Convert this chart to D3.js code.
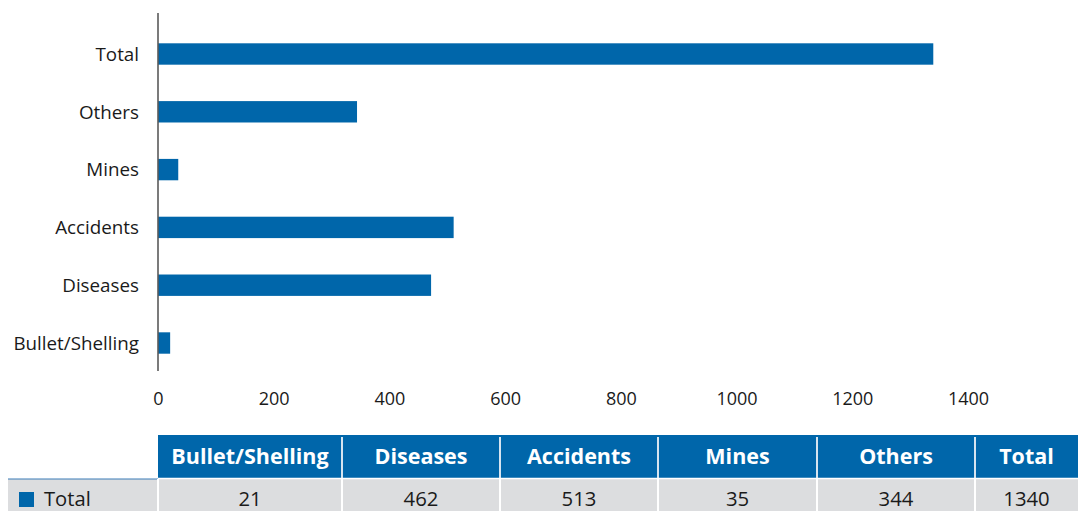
<!DOCTYPE html>
<html>
<head>
<meta charset="utf-8">
<script src="https://cdn.jsdelivr.net/npm/d3@7"></script>
<style>
  html, body { margin: 0; padding: 0; background: #fff; }
  svg { display: block; }
  text { font-family: "Open Sans", "Noto Sans", sans-serif; fill: #1a1a1a; }
</style>
</head>
<body>
<svg id="chart" width="1078" height="511"></svg>
<script>
// ---- data ----
const categories = ["Bullet/Shelling", "Diseases", "Accidents", "Mines", "Others", "Total"];
// values printed in the data table
const tableValues = [21, 462, 513, 35, 344, 1340];
// bar lengths (the Diseases bar is drawn a little longer than its table value)
const barValues = [21, 472, 511, 35, 344, 1340];
const seriesName = "Total";
const xTicks = [0, 200, 400, 600, 800, 1000, 1200, 1400];

// ---- styling / layout ----
const blue = "#0066aa";
const grey = "#dcdddf";
const svg = d3.select("#chart");

const x = d3.scaleLinear().domain([0, 1400]).range([158, 968]);
// top to bottom: Total ... Bullet/Shelling
const y = d3.scaleBand()
  .domain(categories.slice().reverse())
  .range([43.3, 353.7])
  .paddingInner(0.63)
  .paddingOuter(0);

// bars
svg.append("g").selectAll("rect")
  .data(categories.map((c, i) => ({ c, v: barValues[i] })))
  .join("rect")
  .attr("x", x(0))
  .attr("y", d => y(d.c))
  .attr("width", d => x(d.v) - x(0))
  .attr("height", y.bandwidth())
  .attr("fill", blue);

// y axis (labels)
const yAxis = svg.append("g")
  .attr("transform", `translate(${x(0)},0)`)
  .call(d3.axisLeft(y).tickSize(0).tickPadding(19));
yAxis.select(".domain").remove();
yAxis.selectAll("text")
  .attr("font-size", 18.8)
  .attr("font-family", "'Open Sans', sans-serif")
  .attr("fill", "#1a1a1a")
  .attr("dy", "0.36em");

// vertical axis line
svg.append("line")
  .attr("x1", x(0)).attr("x2", x(0))
  .attr("y1", 13).attr("y2", 371)
  .attr("stroke", "#5a5a5a").attr("stroke-width", 1.6);

// x axis (labels only)
const xAxis = svg.append("g")
  .attr("transform", "translate(0,405)")
  .call(d3.axisBottom(x).tickValues(xTicks).tickSize(0).tickPadding(0).tickFormat(d3.format("d")));
xAxis.select(".domain").remove();
xAxis.selectAll("text")
  .attr("font-size", 18)
  .attr("font-family", "'Open Sans', sans-serif")
  .attr("fill", "#1a1a1a")
  .attr("dy", 0)
  .attr("y", 0);

// ---- data table ----
const colEdges = [158, 342, 500, 658, 817, 975, 1078];
const headerTop = 435, headerBottom = 478, rowTop = 479, rowBottom = 511;

// first column data cell
svg.append("rect").attr("x", 8).attr("y", rowTop).attr("width", 150).attr("height", rowBottom - rowTop).attr("fill", grey);
svg.append("line").attr("x1", 8).attr("x2", 158).attr("y1", rowTop).attr("y2", rowTop)
  .attr("stroke", "#3a7cb8").attr("stroke-width", 1.2);
// header background
svg.append("rect").attr("x", colEdges[0]).attr("y", headerTop)
  .attr("width", colEdges[colEdges.length - 1] - colEdges[0]).attr("height", headerBottom - headerTop)
  .attr("fill", blue);
// data row background
svg.append("rect").attr("x", colEdges[0]).attr("y", rowTop)
  .attr("width", colEdges[colEdges.length - 1] - colEdges[0]).attr("height", rowBottom - rowTop)
  .attr("fill", grey);

const cols = categories.map((c, i) => ({ c, v: tableValues[i], x0: colEdges[i], x1: colEdges[i + 1] }));

// header dividers
svg.append("g").selectAll("line.hd")
  .data(cols.slice(1))
  .join("line")
  .attr("x1", d => d.x0).attr("x2", d => d.x0)
  .attr("y1", headerTop + 2).attr("y2", headerBottom)
  .attr("stroke", "#d6e4f0").attr("stroke-width", 2);
// data dividers (including left edge of first data column)
svg.append("g").selectAll("line.dd")
  .data(cols)
  .join("line")
  .attr("x1", d => d.x0).attr("x2", d => d.x0)
  .attr("y1", rowTop).attr("y2", rowBottom)
  .attr("stroke", "#ffffff").attr("stroke-width", 2);
// separator between header and data row
svg.append("line").attr("x1", colEdges[0]).attr("x2", 1078).attr("y1", headerBottom + 0.5).attr("y2", headerBottom + 0.5)
  .attr("stroke", "#ffffff").attr("stroke-width", 1.5);

// header labels
svg.append("g").selectAll("text")
  .data(cols)
  .join("text")
  .attr("x", d => (d.x0 + d.x1) / 2)
  .attr("y", 464)
  .attr("text-anchor", "middle")
  .attr("font-size", 21.5)
  .attr("font-weight", "bold")
  .style("fill", "#ffffff")
  .text(d => d.c);

// data values
svg.append("g").selectAll("text")
  .data(cols)
  .join("text")
  .attr("x", d => (d.x0 + d.x1) / 2)
  .attr("y", 506)
  .attr("text-anchor", "middle")
  .attr("font-size", 20.3)
  .text(d => d.v);

// legend key + series name
svg.append("rect").attr("x", 19).attr("y", 492).attr("width", 15).attr("height", 15).attr("fill", blue);
svg.append("text").attr("x", 44).attr("y", 506).attr("font-size", 20.2).text(seriesName);
</script>
</body>
</html>
